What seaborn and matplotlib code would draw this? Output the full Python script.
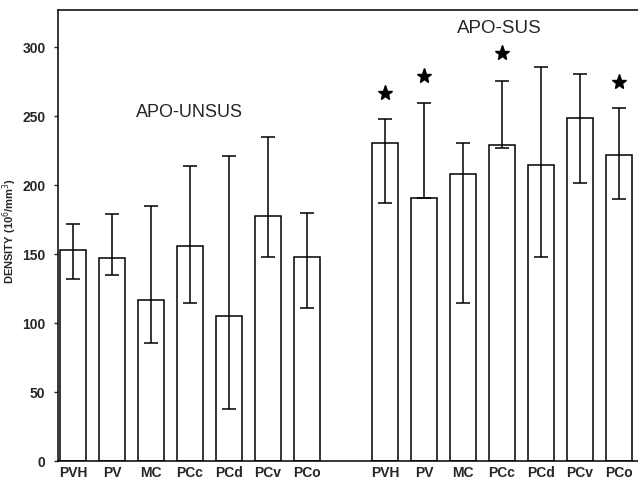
import numpy as np
import pandas as pd
import matplotlib
matplotlib.use('Agg')
import matplotlib.pyplot as plt
import seaborn as sns

# values
regions = ['PVH', 'PV', 'MC', 'PCc', 'PCd', 'PCv', 'PCo']
unsus_mean = [153, 147, 117, 156, 105, 178, 148]
unsus_low = [132, 135, 86, 115, 38, 148, 111]
unsus_high = [172, 179, 185, 214, 221, 235, 180]
sus_mean = [231, 191, 208, 229, 215, 249, 222]
sus_low = [187, 191, 115, 227, 148, 202, 190]
sus_high = [248, 260, 231, 276, 286, 281, 256]
star_regions = ['PVH', 'PV', 'PCc', 'PCo']
star_heights = [267, 279, 296, 275]

sns.set_style('ticks')
plt.rcParams['font.family'] = ['Liberation Sans', 'DejaVu Sans']

n = len(regions)
pos_unsus = np.arange(n)
pos_sus = np.arange(n) + n + 1

df = pd.DataFrame({
    'pos': np.concatenate([pos_unsus, pos_sus]),
    'density': unsus_mean + sus_mean,
    'low': unsus_low + sus_low,
    'high': unsus_high + sus_high,
    'region': regions + regions,
})

fig = plt.figure(figsize=(6.38, 4.83), dpi=100)
ax = fig.add_axes([0.091, 0.045, 0.909, 0.934])

sns.barplot(data=df, x='pos', y='density', native_scale=True, width=0.68,
            color='white', edgecolor='black', linewidth=1.1, errorbar=None,
            ax=ax)

ax.errorbar(df['pos'], df['density'],
            yerr=[df['density'] - df['low'], df['high'] - df['density']],
            fmt='none', ecolor='black', elinewidth=1.1, capsize=5, capthick=1.1)

# significance stars
star_pos = [pos_sus[regions.index(r)] for r in star_regions]
ax.plot(star_pos, star_heights, linestyle='none', marker='*',
        markersize=11, color='black')

ax.text(2.98, 253, 'APO-UNSUS', ha='center', va='center', fontsize=13)
ax.text(10.94, 314, 'APO-SUS', ha='center', va='center', fontsize=13.5)

ax.set_xlim(-0.385, 14.49)
ax.set_ylim(0, 327)
ax.set_yticks(range(0, 301, 50))
ax.set_xticks(df['pos'])
ax.set_xticklabels(df['region'])
ax.tick_params(axis='x', length=0, pad=3.5, labelsize=10)
ax.tick_params(axis='y', length=3, width=1, labelsize=10, pad=6)
for lab in ax.get_xticklabels() + ax.get_yticklabels():
    lab.set_fontweight('bold')

ax.set_xlabel('')
ax.set_ylabel('DENSITY (10$^6$/mm$^3$)', fontsize=8, fontweight='bold')
ax.yaxis.set_label_coords(-0.068, 0.51)

ax.spines['right'].set_visible(False)
for s in ['left', 'top', 'bottom']:
    ax.spines[s].set_linewidth(1.1)
    ax.spines[s].set_color('black')

fig.savefig('out.png', dpi=100)
plt.close(fig)
